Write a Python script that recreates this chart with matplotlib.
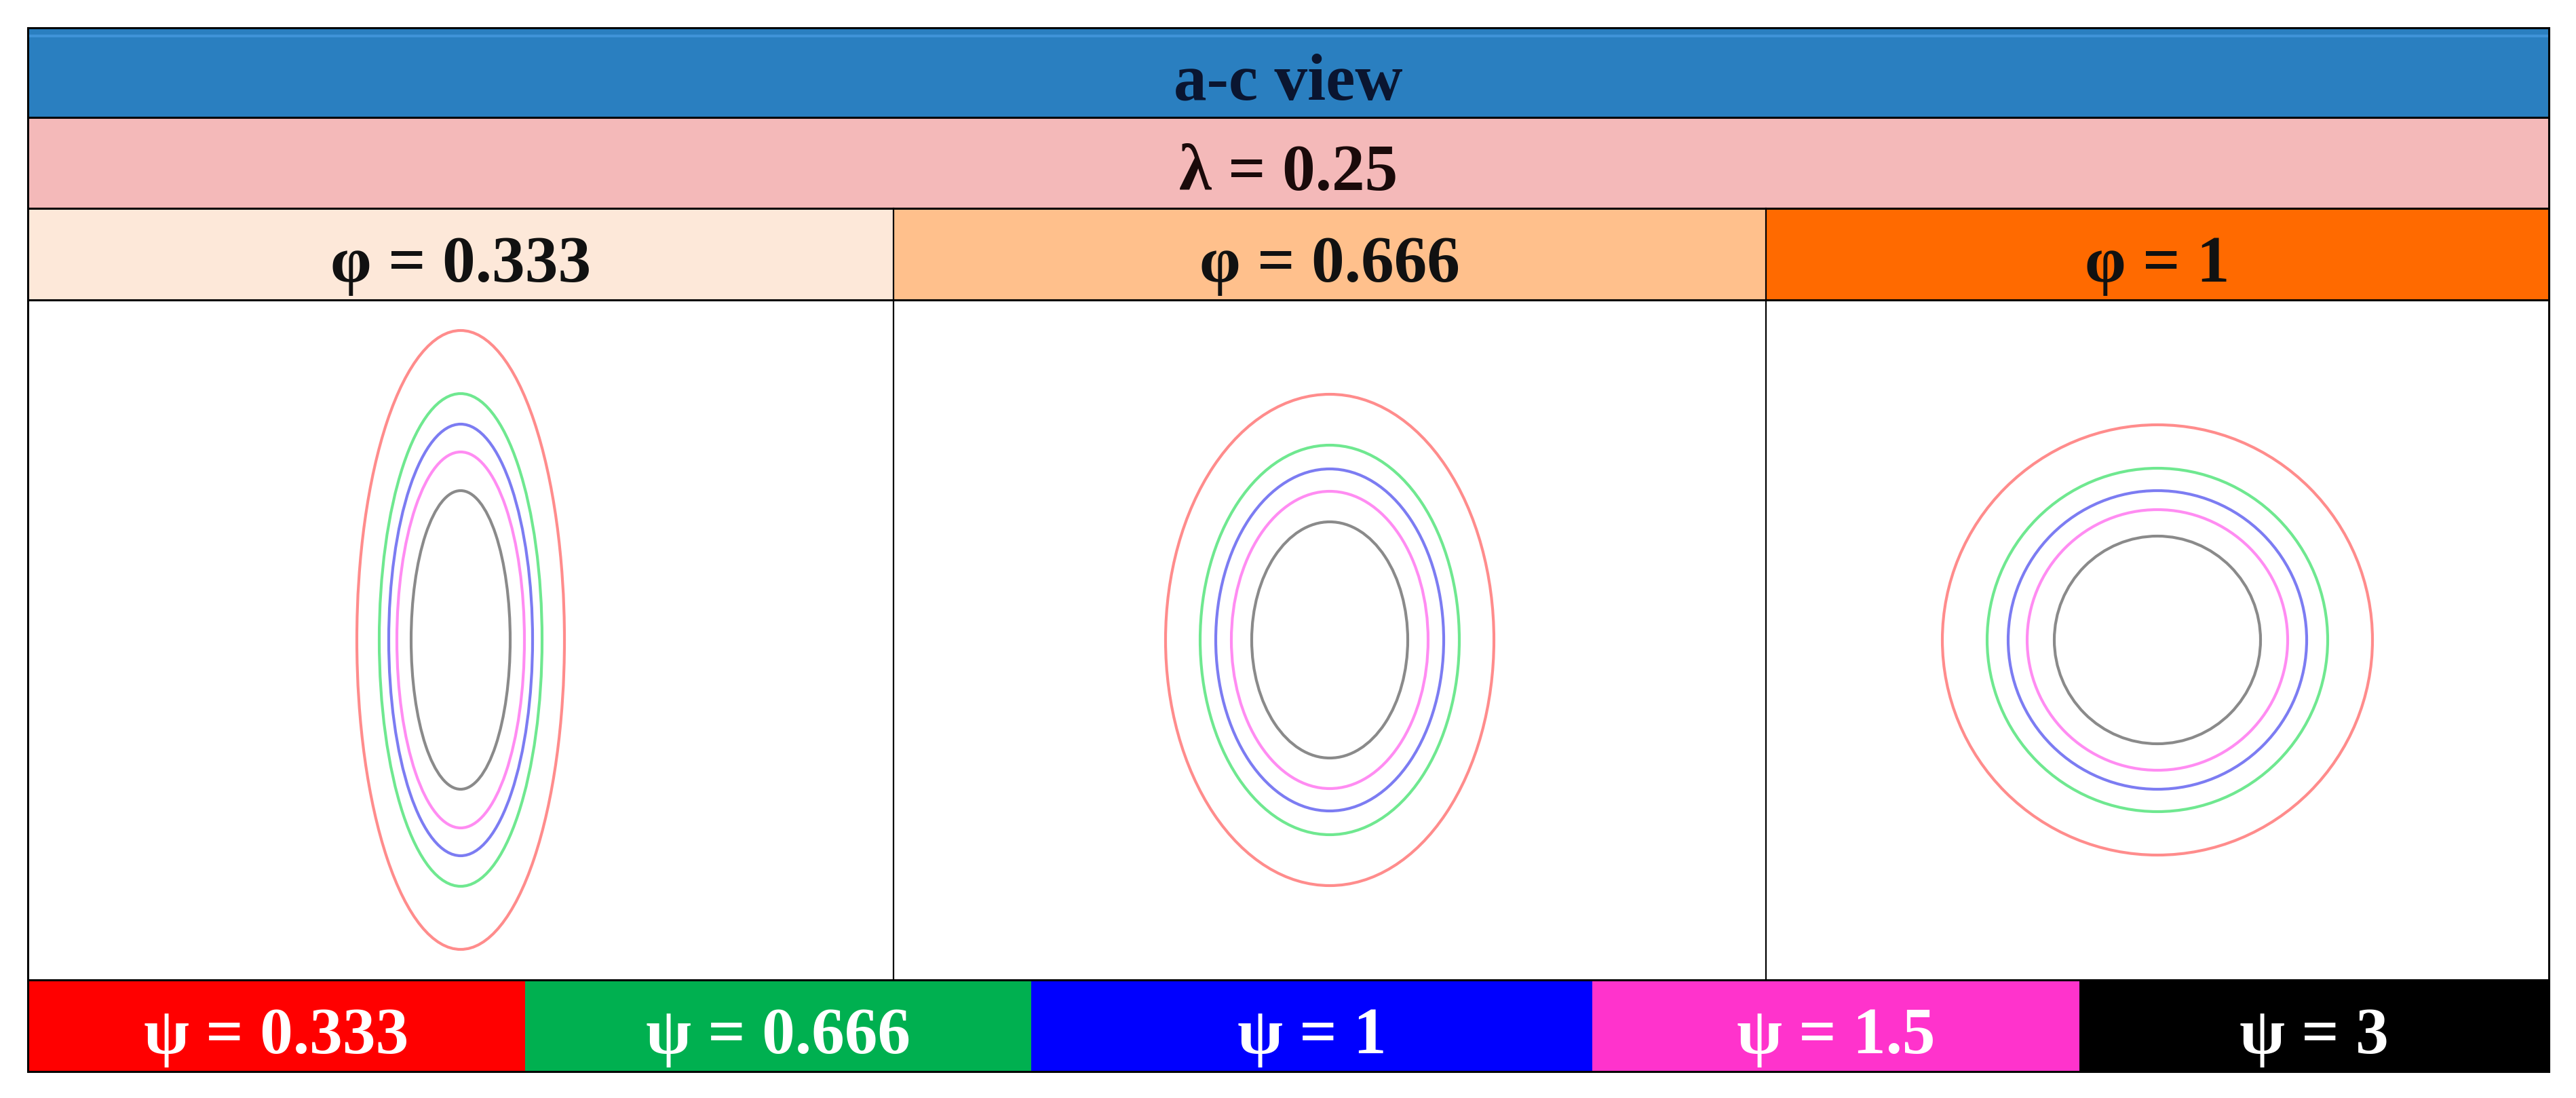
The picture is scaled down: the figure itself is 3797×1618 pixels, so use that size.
import matplotlib
matplotlib.use('Agg')
import matplotlib.pyplot as plt
from matplotlib.patches import Rectangle, Ellipse

# Textos e valores
titulo = 'a-c view'
lambda_rotulo = 'λ = 0.25'
phi_rotulos = ['φ = 0.333', 'φ = 0.666', 'φ = 1']
psi_rotulos = ['ψ = 0.333', 'ψ = 0.666', 'ψ = 1', 'ψ = 1.5', 'ψ = 3']

# semi-eixos (horizontal a, vertical c) de cada contorno, por painel
# ordem: psi = 0.333, 0.666, 1, 1.5, 3
semi_a = [
    [1.53, 1.20, 1.06, 0.94, 0.73],
    [2.42, 1.91, 1.68, 1.45, 1.15],
    [3.17, 2.51, 2.20, 1.92, 1.52],
]
semi_c = [
    [4.56, 3.63, 3.18, 2.77, 2.20],
    [3.62, 2.87, 2.52, 2.19, 1.74],
    [3.17, 2.53, 2.20, 1.92, 1.53],
]

cores_linha = ['#ff8c8c', '#6fe890', '#7c7cf2', '#ff8cf2', '#8a8a8a']
cores_psi = ['#ff0000', '#00b050', '#0000ff', '#ff33cc', '#000000']
cores_phi = ['#fde8d9', '#ffc08c', '#ff6a00']

# layout em pixels
W, H = 3797, 1618
x_esq, x_dir = 41, 3757
y_faixas = [41, 173, 307, 442, 1444, 1579]
x_colunas = [x_esq, 1317, 2603, x_dir]
x_legenda = [x_esq, 774, 1520, 2347, 3065, x_dir]

fonte = dict(family='Liberation Serif', fontweight='bold', fontsize=70)
base = 27  # distancia da linha de base ao fundo da faixa

fig = plt.figure(figsize=(W / 100, H / 100), dpi=100)
ax = fig.add_axes([0, 0, 1, 1])
ax.set_xlim(0, W)
ax.set_ylim(H, 0)
ax.axis('off')

# faixa azul e faixa rosa
ax.add_patch(Rectangle((x_esq, y_faixas[0]), x_dir - x_esq, y_faixas[1] - y_faixas[0],
                       facecolor='#2a7fc0', edgecolor='none'))
ax.plot([x_esq, x_dir], [53, 53], color='#3f93d8', lw=3, solid_capstyle='butt')
ax.text((x_esq + x_dir) / 2, y_faixas[1] - base, titulo, ha='center', va='baseline',
        color='#0a1530', **fonte)
ax.add_patch(Rectangle((x_esq, y_faixas[1]), x_dir - x_esq, y_faixas[2] - y_faixas[1],
                       facecolor='#f4b9b9', edgecolor='none'))
ax.text((x_esq + x_dir) / 2, y_faixas[2] - base, lambda_rotulo, ha='center', va='baseline',
        color='#1a0a0a', **fonte)

# cabecalhos phi
for i, rot in enumerate(phi_rotulos):
    x0, x1 = x_colunas[i], x_colunas[i + 1]
    ax.add_patch(Rectangle((x0, y_faixas[2]), x1 - x0, y_faixas[3] - y_faixas[2],
                           facecolor=cores_phi[i], edgecolor='none'))
    ax.text((x0 + x1) / 2, y_faixas[3] - base, rot, ha='center', va='baseline',
            color='#111111', **fonte)

# legenda psi
for i, rot in enumerate(psi_rotulos):
    x0, x1 = x_legenda[i], x_legenda[i + 1]
    ax.add_patch(Rectangle((x0, y_faixas[4]), x1 - x0, y_faixas[5] - y_faixas[4],
                           facecolor=cores_psi[i], edgecolor='none'))
    ax.text((x0 + x1) / 2, y_faixas[5] - base, rot, ha='center', va='baseline',
            color='white', **fonte)

# linhas da tabela
for y in y_faixas:
    ax.plot([x_esq, x_dir], [y, y], color='black', lw=2.2, solid_capstyle='butt')
ax.plot([x_esq, x_esq], [y_faixas[0], y_faixas[-1]], color='black', lw=2.2)
ax.plot([x_dir, x_dir], [y_faixas[0], y_faixas[-1]], color='black', lw=2.2)
for x in x_colunas[1:-1]:
    ax.plot([x, x], [y_faixas[2], y_faixas[4]], color='black', lw=1.6)

# paineis com os contornos
for p in range(3):
    x0, x1 = x_colunas[p], x_colunas[p + 1]
    y0, y1 = y_faixas[3], y_faixas[4]
    axp = fig.add_axes([x0 / W, 1 - y1 / H, (x1 - x0) / W, (y1 - y0) / H])
    axp.set_xlim(-(x1 - x0) / 200, (x1 - x0) / 200)
    axp.set_ylim(-(y1 - y0) / 200, (y1 - y0) / 200)
    axp.axis('off')
    axp.patch.set_alpha(0)
    for k in range(len(psi_rotulos)):
        axp.add_patch(Ellipse((0, 0), 2 * semi_a[p][k], 2 * semi_c[p][k],
                              fill=False, edgecolor=cores_linha[k], lw=3.0))

fig.savefig('out.png', dpi=100)
